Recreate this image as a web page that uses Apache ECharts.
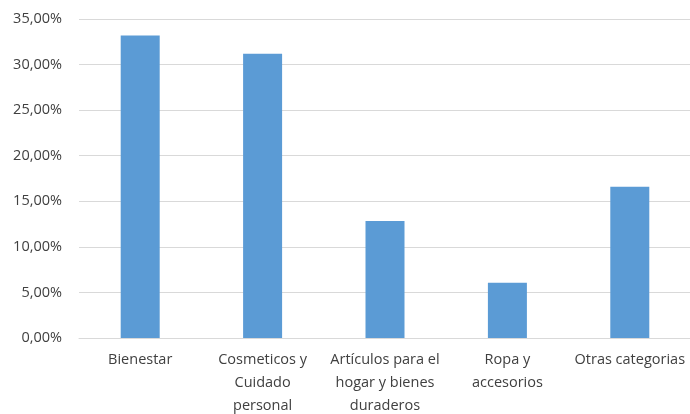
<!DOCTYPE html>
<html><head><meta charset="utf-8">
<script src="https://cdn.jsdelivr.net/npm/echarts@6/dist/echarts.min.js"></script>
<style>html,body{margin:0;padding:0;background:#fff}#c{width:690px;height:414px}</style>
</head><body><div id="c"></div>
<script>
const categories = ["Bienestar", "Cosmeticos y\nCuidado\npersonal", "Artículos para el\nhogar y bienes\nduraderos", "Ropa y\naccesorios", "Otras categorias"];
const values = [33.2, 31.2, 12.85, 6.05, 16.6];
const yMin = 0, yMax = 35, yStep = 5;

const chart = echarts.init(document.getElementById('c'));
chart.setOption({
  animation: false,
  grid: {left: 79, right: -1, top: 19, bottom: 76, containLabel: false, outerBoundsMode: 'none'},
  xAxis: {
    type: 'category', data: categories,
    axisLine: {lineStyle: {color: '#d9d9d9'}},
    axisTick: {show: false},
    axisLabel: {color: '#404040', fontFamily: 'Open Sans', fontSize: 14.5, lineHeight: 23, margin: 10, interval: 0}
  },
  yAxis: {
    type: 'value', min: yMin, max: yMax, interval: yStep,
    axisLine: {show: false}, axisTick: {show: false},
    splitLine: {lineStyle: {color: '#d9d9d9'}},
    axisLabel: {color: '#404040', fontFamily: 'Open Sans', fontSize: 14.5, margin: 17,
      formatter: v => v.toFixed(2).replace('.', ',') + '%'}
  },
  series: [{type: 'bar', data: values, barWidth: 39, itemStyle: {color: '#5b9bd5'}}]
});
</script></body></html>
